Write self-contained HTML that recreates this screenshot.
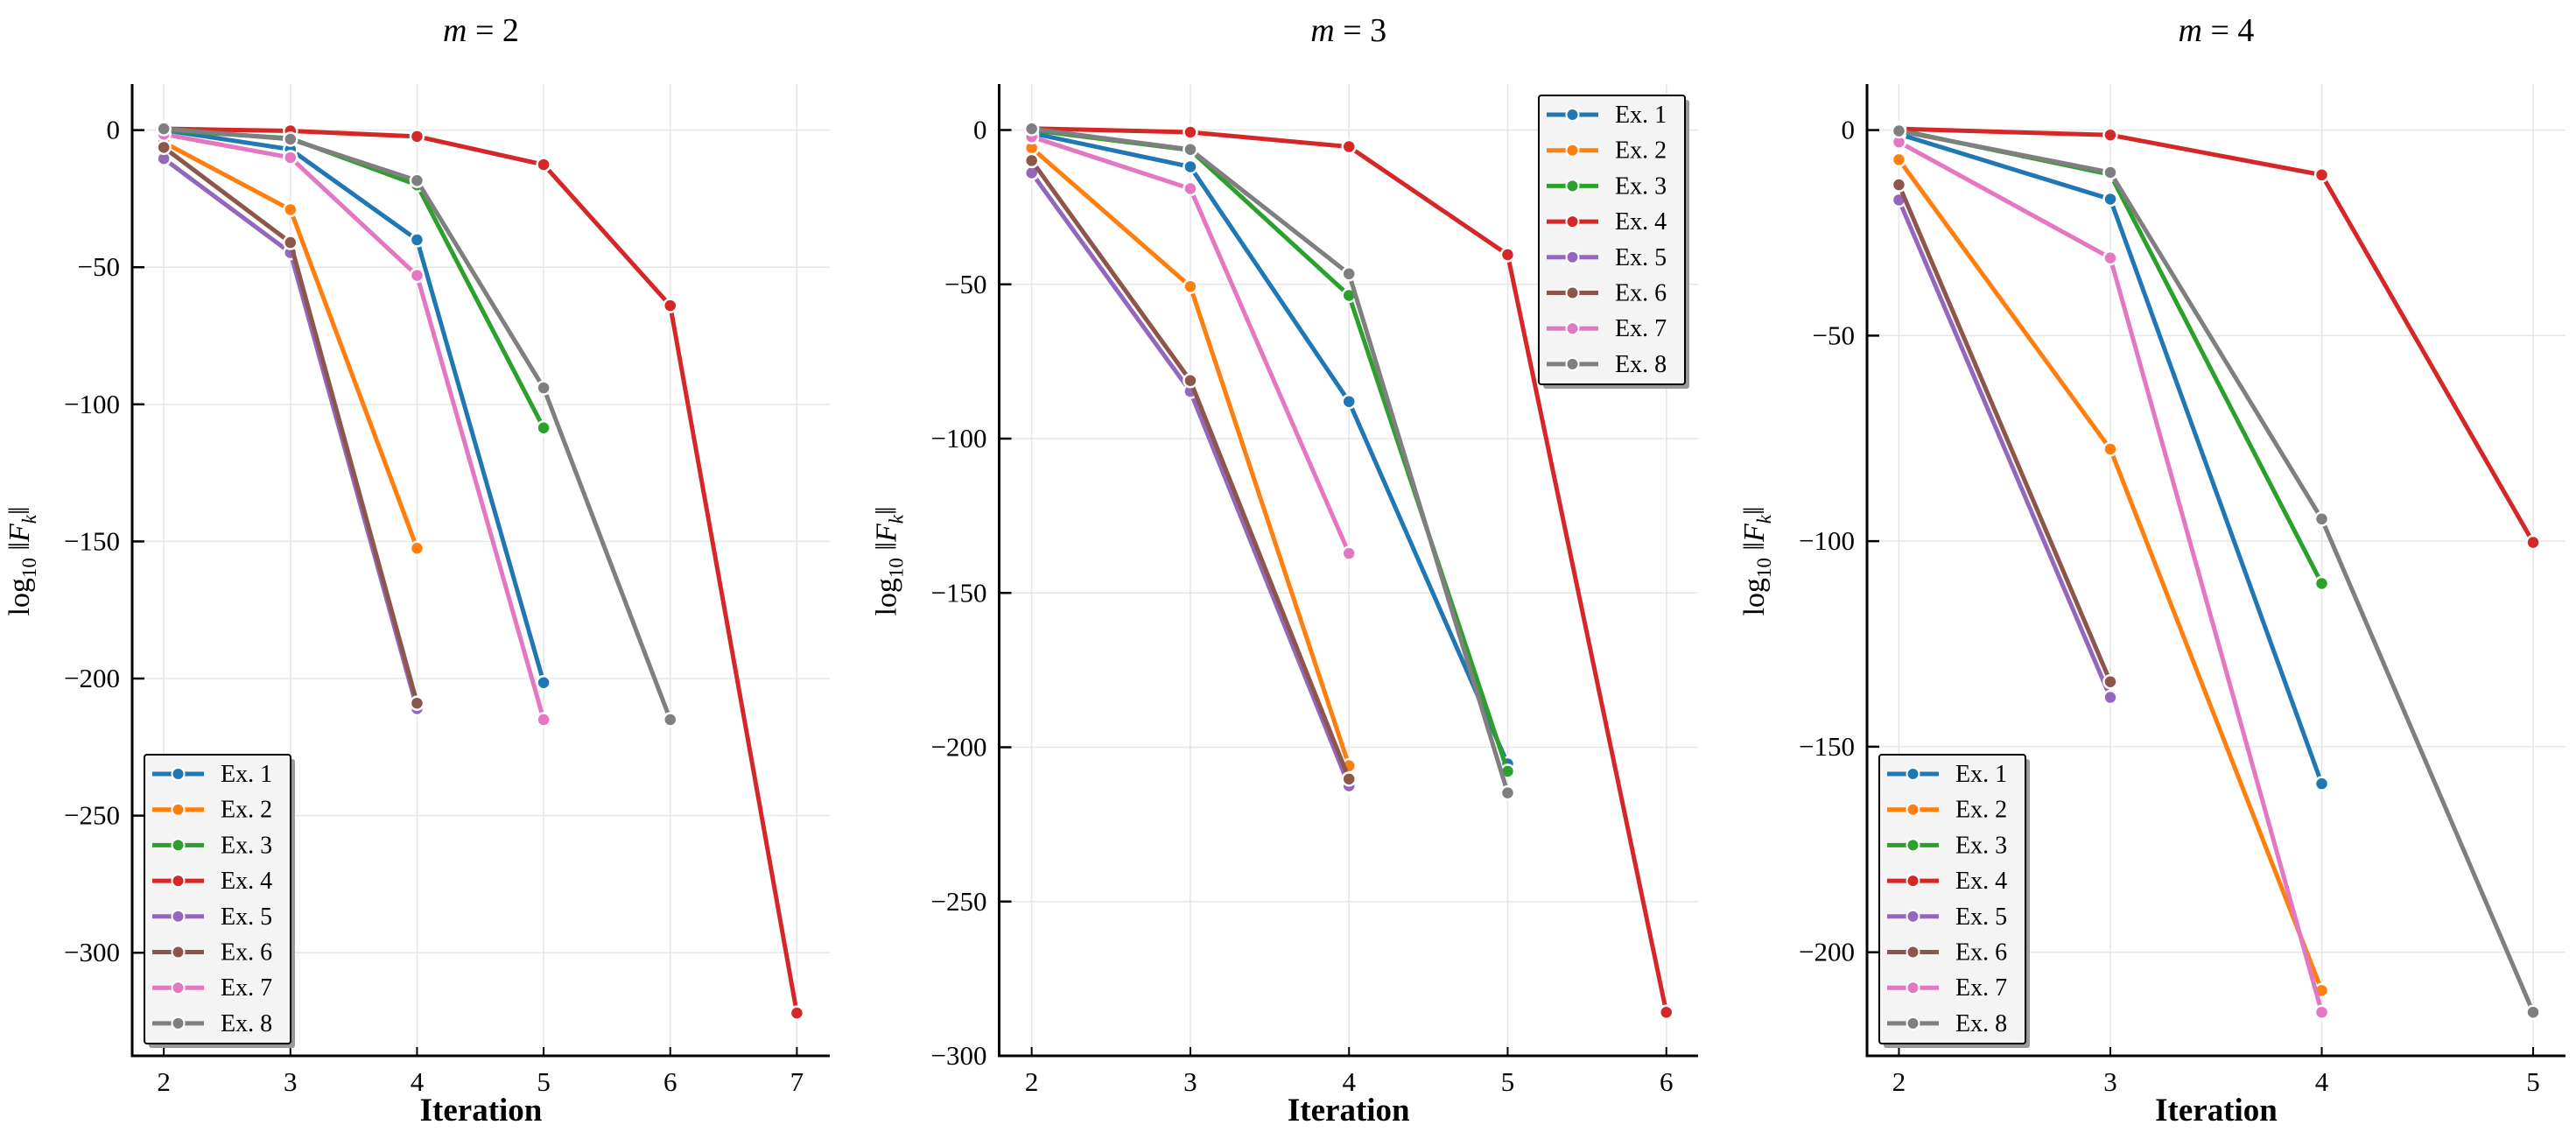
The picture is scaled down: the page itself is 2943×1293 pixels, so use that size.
<!DOCTYPE html>
<html><head><meta charset="utf-8"><style>
html,body{margin:0;padding:0;background:#fff;}
svg{display:block;font-family:"Liberation Serif",serif;}
</style></head><body>
<svg id="chart" width="2943" height="1293" viewBox="0 0 2943 1293" xmlns="http://www.w3.org/2000/svg"></svg>
<script>
const seriesNames = ["Ex. 1","Ex. 2","Ex. 3","Ex. 4","Ex. 5","Ex. 6","Ex. 7","Ex. 8"];
const colors = ["#1f77b4","#ff7f0e","#2ca02c","#d62728","#9467bd","#8c564b","#e377c2","#7f7f7f"];
const m2Values = [
  [0,-7,-40,-201.5],
  [-4.5,-29,-152.5],
  [0,-3,-20,-108.6],
  [0.5,-0.3,-2.3,-12.6,-64,-322],
  [-10.4,-44.7,-211],
  [-6.3,-41,-209],
  [-1.5,-10,-53,-215],
  [0.5,-3.3,-18.4,-94,-215]
];
const m3Values = [
  [-1,-11.9,-88,-205.4],
  [-5.8,-50.7,-206],
  [0,-6.5,-53.6,-207.8],
  [0.5,-0.7,-5.4,-40.4,-285.9],
  [-13.9,-84.7,-212.5],
  [-9.9,-81.2,-210.3],
  [-2.2,-19,-137.2],
  [0.4,-6.3,-46.6,-214.8]
];
const m4Values = [
  [-1,-16.8,-159],
  [-7.2,-77.6,-209.3],
  [0,-10.8,-110.3],
  [0.3,-1.2,-10.9,-100.3],
  [-17,-138],
  [-13.3,-134.2],
  [-2.9,-31.1,-214.6],
  [-0.2,-10.3,-94.6,-214.6]
];
const m2XTicks = [2,3,4,5,6,7];
const m3XTicks = [2,3,4,5,6];
const m4XTicks = [2,3,4,5];
const m2YTicks = [0,-50,-100,-150,-200,-250,-300];
const m3YTicks = [0,-50,-100,-150,-200,-250,-300];
const m4YTicks = [0,-50,-100,-150,-200];
const titles = ["m = 2","m = 3","m = 4"];

const panels = [
  {id:"m2", vals:m2Values, xt:m2XTicks, yt:m2YTicks, px0:151, px1:948, xmin:1.75, xmax:7.26, ymin:-337.6, ymax:16.8, legend:[165,862]},
  {id:"m3", vals:m3Values, xt:m3XTicks, yt:m3YTicks, px0:1141.5, px1:1940, xmin:1.795, xmax:6.2, ymin:-300, ymax:14.9, legend:[1758,109]},
  {id:"m4", vals:m4Values, xt:m4XTicks, yt:m4YTicks, px0:2133, px1:2931, xmin:1.849, xmax:5.153, ymin:-225.2, ymax:11.2, legend:[2147,862]}
];
const NS="http://www.w3.org/2000/svg";
const svg=document.getElementById('chart');
function mk(tag, attrs, parent){const e=document.createElementNS(NS,tag);for(const k in attrs)e.setAttribute(k,attrs[k]);(parent||svg).appendChild(e);return e;}
const PY0=96, PY1=1206;
panels.forEach((p,pi)=>{
  const g=mk('g',{});
  
  
  const sx=v=>p.px0+(v-p.xmin)/(p.xmax-p.xmin)*(p.px1-p.px0);
  const sy=v=>PY1-(v-p.ymin)/(p.ymax-p.ymin)*(PY1-PY0);
  p.xt.forEach(t=>{const l=mk('line',{x1:sx(t),x2:sx(t),y1:PY0,y2:PY1,stroke:'#e6e6e6','stroke-width':1.5},g);});
  p.yt.forEach(t=>{const l=mk('line',{x1:p.px0,x2:p.px1,y1:sy(t),y2:sy(t),stroke:'#e6e6e6','stroke-width':1.5},g);});
  const ax=mk('path',{d:`M${p.px0},${PY0} L${p.px0},${PY1} L${p.px1},${PY1}`,fill:'none',stroke:'#000','stroke-width':3},g);
  
  p.xt.forEach(t=>{
    mk('line',{x1:sx(t),x2:sx(t),y1:PY1,y2:PY1-10,stroke:'#000','stroke-width':2},g);
    const tx=mk('text',{x:sx(t),y:PY1+40,'text-anchor':'middle','font-size':31},g);tx.textContent=t;
    
  });
  p.yt.forEach(t=>{
    mk('line',{x1:p.px0,x2:p.px0+14,y1:sy(t),y2:sy(t),stroke:'#000','stroke-width':2.5},g);
    const tx=mk('text',{x:p.px0-14,y:sy(t)+10,'text-anchor':'end','font-size':31},g);tx.textContent=(t<0?'\u2212'+(-t):t);
    
  });
  const xl=mk('text',{x:(p.px0+p.px1)/2,y:1280,'text-anchor':'middle','font-size':37,'font-weight':'bold'},g);xl.textContent='Iteration';
  
  const yx=p.px0-118;
  const yl=mk('text',{x:0,y:0,'text-anchor':'middle','font-size':34,transform:`translate(${yx},${(PY0+PY1)/2-10}) rotate(-90)`},g);
  yl.innerHTML='log<tspan font-size="23" dy="8">10</tspan><tspan dy="-8"> ‖</tspan><tspan font-style="italic">F</tspan><tspan font-size="23" font-style="italic" dy="8">k</tspan><tspan dy="-8">‖</tspan>';
  
  const ti=mk('text',{x:(p.px0+p.px1)/2,y:47,'text-anchor':'middle','font-size':38,'font-style':'italic'},g);
  ti.innerHTML='m<tspan font-style="normal"> = '+titles[pi].split('= ')[1]+'</tspan>';
  
  p.vals.forEach((arr,si)=>{
    const sg=mk('g',{},g);
    
    
    const pts=arr.map((v,i)=>[sx(2+i),sy(v)]);
    const pl=mk('polyline',{points:pts.map(q=>q.join(',')).join(' '),fill:'none',stroke:colors[si],'stroke-width':5,'stroke-linejoin':'round'},sg);
    
    pts.forEach(q=>{const c=mk('circle',{cx:q[0],cy:q[1],r:7.5,fill:colors[si],stroke:'#fff','stroke-width':2.5},sg);
      });
  });
  const [lx,ly]=p.legend;
  const lg=mk('g',{},g);
  
  mk('rect',{x:lx+5,y:ly+5,width:167,height:330,rx:3,fill:'#999'},lg);
  mk('rect',{x:lx,y:ly,width:167,height:330,rx:3,fill:'#f4f4f4',stroke:'#000','stroke-width':2},lg);
  seriesNames.forEach((n,si)=>{
    const yy=ly+22+si*40.7;
    const e=mk('g',{},lg);
    
    mk('line',{x1:lx+9,x2:lx+68,y1:yy,y2:yy,stroke:colors[si],'stroke-width':5},e);
    mk('circle',{cx:lx+38.5,cy:yy,r:7,fill:colors[si],stroke:'#fff','stroke-width':2},e);
    const t=mk('text',{x:lx+87,y:yy+9,'font-size':28},e);t.textContent=n;
  });
});
</script>
</body></html>
